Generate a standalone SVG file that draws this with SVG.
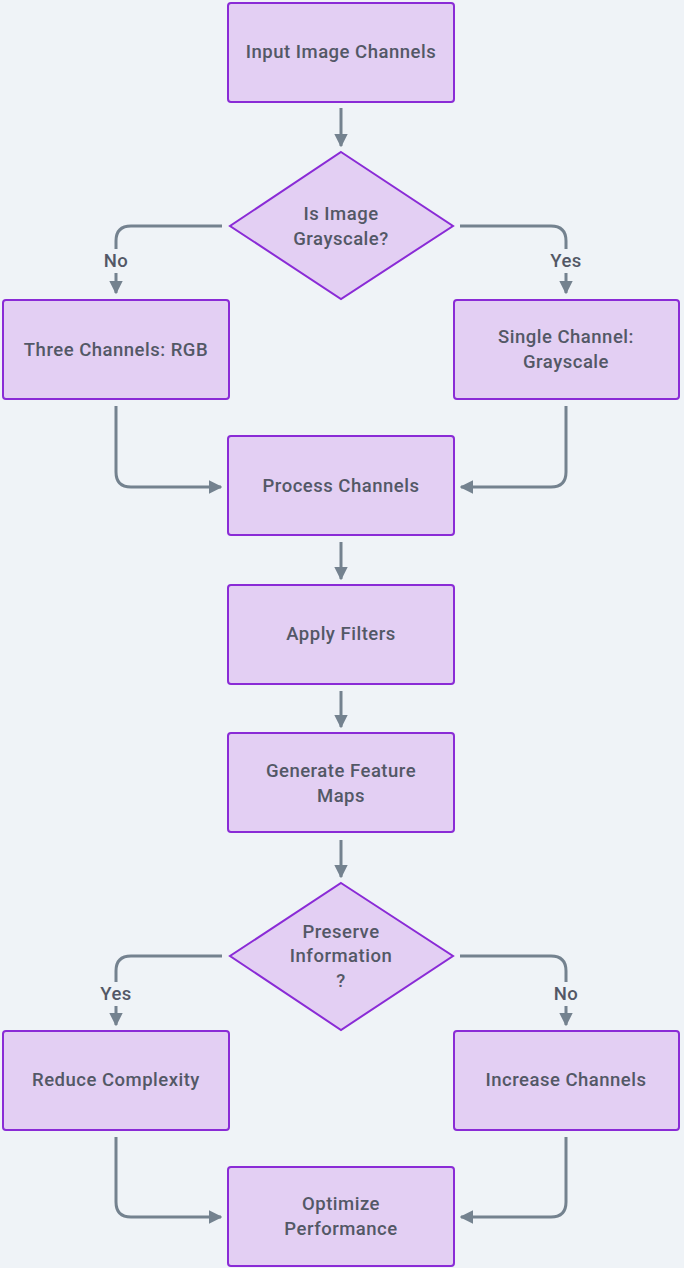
<svg xmlns="http://www.w3.org/2000/svg" width="685" height="1270" viewBox="0 0 685 1270">
<defs>
<style>
.node rect, .node polygon { fill:#E3CFF3; stroke:#8A2BD6; stroke-width:2; }
.node text { font-family:Roboto, "Liberation Sans", Arial, sans-serif; font-size:18.5px; font-weight:500; letter-spacing:0.5px; fill:#535866; text-anchor:middle; dominant-baseline:central; }
.edges path { fill:none; stroke:#74828F; stroke-width:3; }
.lbl rect { fill:#EFF3F7; }
.lbl text { font-family:Roboto, "Liberation Sans", Arial, sans-serif; font-size:18.5px; font-weight:500; letter-spacing:0.5px; fill:#535866; text-anchor:middle; dominant-baseline:central; }
</style>
<marker id="ah" viewBox="0 0 10 10" refX="9" refY="5" markerWidth="4.5" markerHeight="4.5" orient="auto" markerUnits="strokeWidth">
<path d="M0,0 L10,5 L0,10 z" fill="#74828F"/>
</marker>
</defs>
<rect x="0" y="0" width="684" height="1268" fill="#EFF3F7"/>
<g class="edges">
<path d="M341,108 V146" marker-end="url(#ah)"/>
<path d="M222,226 H131 Q116,226 116,241 V293" marker-end="url(#ah)"/>
<path d="M460,226 H551 Q566,226 566,241 V293" marker-end="url(#ah)"/>
<path d="M116,406 V472 Q116,487 131,487 H221" marker-end="url(#ah)"/>
<path d="M566,406 V472 Q566,487 551,487 H461" marker-end="url(#ah)"/>
<path d="M341,542 V579" marker-end="url(#ah)"/>
<path d="M341,691 V727" marker-end="url(#ah)"/>
<path d="M341,840 V877" marker-end="url(#ah)"/>
<path d="M222,956 H131 Q116,956 116,971 V1025" marker-end="url(#ah)"/>
<path d="M460,956 H551 Q566,956 566,971 V1025" marker-end="url(#ah)"/>
<path d="M116,1137 V1202 Q116,1217 131,1217 H221" marker-end="url(#ah)"/>
<path d="M566,1137 V1202 Q566,1217 551,1217 H461" marker-end="url(#ah)"/>
</g>
<g class="lbl">
<rect x="99" y="249" width="34" height="24"/><text x="116" y="261">No</text>
<rect x="546" y="249" width="40" height="24"/><text x="566" y="261">Yes</text>
<rect x="96" y="982" width="40" height="24"/><text x="116" y="994">Yes</text>
<rect x="549" y="982" width="34" height="24"/><text x="566" y="994">No</text>
</g>
<g id="n1" class="node"><rect x="228" y="3" width="226" height="99" rx="3"/><text x="341" y="52">Input Image Channels</text></g>
<g id="n2" class="node"><polygon points="341,152 453,226 341,299 230,226"/><text x="341" y="214">Is Image</text><text x="341" y="239">Grayscale?</text></g>
<g id="n3" class="node"><rect x="3" y="300" width="226" height="99" rx="3"/><text x="116" y="350">Three Channels: RGB</text></g>
<g id="n4" class="node"><rect x="454" y="300" width="225" height="99" rx="3"/><text x="566" y="337">Single Channel:</text><text x="566" y="362">Grayscale</text></g>
<g id="n5" class="node"><rect x="228" y="436" width="226" height="99" rx="3"/><text x="341" y="486">Process Channels</text></g>
<g id="n6" class="node"><rect x="228" y="585" width="226" height="99" rx="3"/><text x="341" y="634">Apply Filters</text></g>
<g id="n7" class="node"><rect x="228" y="733" width="226" height="99" rx="3"/><text x="341" y="771">Generate Feature</text><text x="341" y="796">Maps</text></g>
<g id="n8" class="node"><polygon points="341,883 453,956 341,1030 230,956"/><text x="341" y="932">Preserve</text><text x="341" y="956">Information</text><text x="341" y="981">?</text></g>
<g id="n9" class="node"><rect x="3" y="1031" width="226" height="99" rx="3"/><text x="116" y="1080">Reduce Complexity</text></g>
<g id="n10" class="node"><rect x="454" y="1031" width="225" height="99" rx="3"/><text x="566" y="1080">Increase Channels</text></g>
<g id="n11" class="node"><rect x="228" y="1167" width="226" height="99" rx="3"/><text x="341" y="1204">Optimize</text><text x="341" y="1229">Performance</text></g>
</svg>
